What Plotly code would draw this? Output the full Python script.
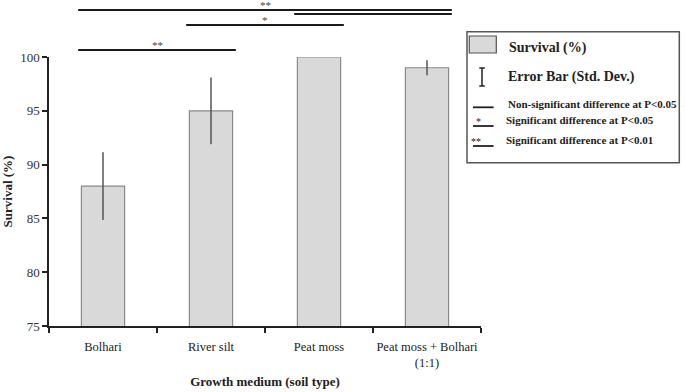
import plotly.graph_objects as go

categories = ["Bolhari", "River silt", "Peat moss", "Peat moss + Bolhari<br>(1:1)"]
survival = [88, 95, 100, 99]
std_dev = [3.15, 3.1, 0, 0.7]

# significance comparisons: (from index, to index, label)
comparisons = [
    (0, 3, "**"),
    (2, 3, ""),
    (1, 2, "*"),
    (0, 1, "**"),
]
comparison_heights = [1.175, 1.160, 1.119, 1.026]  # paper y of each line

legend_items = ["Survival (%)", "Error Bar (Std. Dev.)",
                "Non-significant difference at P<0.05",
                "Significant difference at P<0.05",
                "Significant difference at P<0.01"]

FONT = "Liberation Serif, Times New Roman, serif"

# plot area in pixels
L, R, T, B = 48.7, 480.7, 57, 326
W, H = 685, 392


def px(X):
    return (X - L) / (R - L)


def py(Y):
    return (B - Y) / (B - T)


fig = go.Figure()
fig.add_trace(go.Bar(
    x=categories, y=survival,
    width=0.4,
    marker=dict(color="#d9d9d9", line=dict(color="#8a8a8a", width=1.2)),
    error_y=dict(type="data", array=std_dev, visible=True,
                 color="#555555", thickness=1.5, width=0),
    showlegend=False, hoverinfo="skip",
))

shapes = []
annotations = []

half = 0.23
for (i, j, lab), h in zip(comparisons, comparison_heights):
    shapes.append(dict(type="line", xref="x", yref="paper",
                       x0=i - half, x1=j + half, y0=h, y1=h,
                       line=dict(color="#1a1a1a", width=2)))
    if lab:
        annotations.append(dict(xref="x", yref="paper",
                                x=(i + j) / 2, y=h, text=lab,
                                showarrow=False, yanchor="bottom",
                                yshift=-3,
                                font=dict(family=FONT, size=11, color="#444444")))

# custom legend box
shapes.append(dict(type="rect", xref="paper", yref="paper",
                   x0=px(466.7), x1=px(679), y0=py(31.7), y1=py(162.7),
                   line=dict(color="#555555", width=1.5), fillcolor="white",
                   layer="below"))
# swatch
shapes.append(dict(type="rect", xref="paper", yref="paper",
                   x0=px(469), x1=px(496), y0=py(36), y1=py(53),
                   line=dict(color="#555555", width=1.2), fillcolor="#d9d9d9"))
# error bar glyph
shapes.append(dict(type="line", xref="paper", yref="paper",
                   x0=px(481.7), x1=px(481.7), y0=py(68), y1=py(86),
                   line=dict(color="#222222", width=1.5)))
for yy in (68, 86):
    shapes.append(dict(type="line", xref="paper", yref="paper",
                       x0=px(479), x1=px(484.5), y0=py(yy), y1=py(yy),
                       line=dict(color="#222222", width=1.5)))
# line glyphs
line_ys = [107.3, 126, 146]
line_marks = ["", "*", "**"]
for yy, mk in zip(line_ys, line_marks):
    shapes.append(dict(type="line", xref="paper", yref="paper",
                       x0=px(472.7), x1=px(493.3), y0=py(yy), y1=py(yy),
                       line=dict(color="#222222", width=1.8)))
    if mk:
        annotations.append(dict(xref="paper", yref="paper", x=px(483), y=py(yy),
                                text=mk, showarrow=False, yanchor="bottom", yshift=-3,
                                font=dict(family=FONT, size=10, color="#222222")))

text_pos = [(506.5, 48.3, 14), (505.7, 76.7, 14), (505.7, 104, 11),
            (503.3, 119.5, 11), (503.3, 139.5, 11)]
for txt, (xx, yy, fs) in zip(legend_items, text_pos):
    annotations.append(dict(xref="paper", yref="paper", x=px(xx), y=py(yy),
                            text="<b>" + txt + "</b>", showarrow=False,
                            xanchor="left", yanchor="middle",
                            font=dict(family=FONT, size=fs, color="#222222")))

fig.update_layout(
    width=W, height=H,
    margin=dict(l=L, r=W - R, t=T, b=H - B, autoexpand=False),
    paper_bgcolor="white", plot_bgcolor="white",
    font=dict(family=FONT, size=12.5, color="#222222"),
    shapes=shapes, annotations=annotations,
    xaxis=dict(type="category", range=[-0.5, 3.5], showline=True,
               linecolor="#222222", linewidth=1.5, ticks="outside",
               tickson="boundaries", ticklen=5, tickcolor="#222222",
               tickwidth=1.5, showgrid=False, tickangle=0, automargin=False,
               ticklabelstandoff=8,
               tickfont=dict(family=FONT, size=12.5, color="#222222"),
               title=dict(text="<b>Growth medium (soil type)</b>",
                          font=dict(family=FONT, size=13, color="#222222"),
                          standoff=8)),
    yaxis=dict(range=[75, 100], dtick=5, showline=True, linecolor="#222222",
               linewidth=1.5, ticks="outside", ticklen=5, tickcolor="#222222",
               tickwidth=1.5, showgrid=False, zeroline=False, automargin=False,
               tickfont=dict(family=FONT, size=13, color="#333333"),
               title=dict(text="<b>Survival (%)</b>",
                          font=dict(family=FONT, size=13, color="#222222"),
                          standoff=6)),
)

fig.write_html("out.html", config={"displayModeBar": False},
               post_script="document.body.style.margin='0';")
